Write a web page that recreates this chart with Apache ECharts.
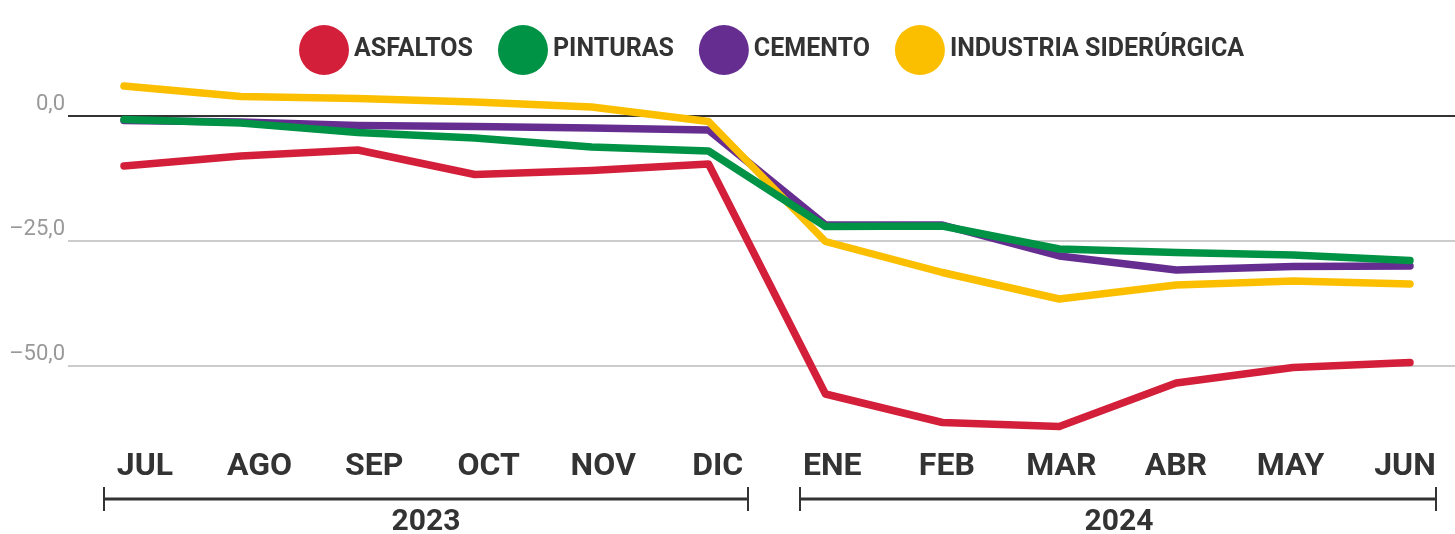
<!DOCTYPE html>
<html>
<head>
<meta charset="utf-8">
<script src="https://cdn.jsdelivr.net/npm/echarts@6/dist/echarts.min.js"></script>
<style>
  html, body { margin: 0; padding: 0; background: #fff; }
  #chart { width: 1455px; height: 534px; }
</style>
</head>
<body>
<div id="chart"></div>
<script>
// datos
const months = ['JUL', 'AGO', 'SEP', 'OCT', 'NOV', 'DIC', 'ENE', 'FEB', 'MAR', 'ABR', 'MAY', 'JUN'];
const years = ['2023', '2024'];
const asfaltos = [-10.1, -8.1, -6.9, -11.8, -11.0, -9.7, -55.7, -61.4, -62.2, -53.5, -50.4, -49.4];
const pinturas = [-0.8, -1.5, -3.4, -4.5, -6.3, -7.1, -22.2, -22.1, -26.7, -27.4, -27.9, -29.0];
const cemento = [-1.0, -1.3, -2.0, -2.2, -2.5, -2.9, -21.9, -21.9, -28.1, -30.9, -30.2, -30.1];
const siderurgica = [5.9, 3.8, 3.4, 2.7, 1.7, -1.2, -25.2, -31.4, -36.7, -33.9, -33.1, -33.7];
const yTicks = [0, -25, -50];

const FONT = 'Roboto, "Noto Sans", sans-serif';
const chart = echarts.init(document.getElementById('chart'));

// escala y: 5px por unidad, 0 en y=115.5
const yBase = { type: 'value', min: -75, max: 23, interval: 25 };

function lineSerie(name, data, color, z) {
  return {
    name: name,
    type: 'line',
    xAxisIndex: 1,
    yAxisIndex: 1,
    data: data,
    z: z,
    symbol: 'none',
    showSymbol: false,
    lineStyle: { color: color, width: 7.5, cap: 'round', join: 'round' },
    itemStyle: { color: color }
  };
}

const option = {
  animation: false,
  legend: {
    data: ['ASFALTOS', 'PINTURAS', 'CEMENTO', 'INDUSTRIA SIDERÚRGICA'],
    icon: 'circle',
    top: 20,
    left: 294,
    itemWidth: 50,
    itemHeight: 50,
    itemGap: 25,
    textStyle: { fontFamily: FONT, fontSize: 25, fontWeight: 'bold', color: '#333' }
  },
  grid: [
    { left: 68, right: 0, top: 0.5, bottom: 43.5 },
    { left: 124, right: 45, top: 0.5, bottom: 43.5 },
    { left: 145, right: 50, top: 100, bottom: 84 }
  ],
  xAxis: [
    { gridIndex: 0, type: 'value', show: false },
    { gridIndex: 1, type: 'category', data: months, boundaryGap: false, show: false },
    {
      gridIndex: 2, type: 'category', data: months, boundaryGap: false,
      axisLine: { show: false }, axisTick: { show: false },
      axisLabel: {
        interval: 0, margin: 1, fontFamily: FONT, fontSize: 32, fontWeight: 'bold',
        color: '#333', lineHeight: 32, verticalAlign: 'top'
      }
    }
  ],
  yAxis: [
    Object.assign({}, yBase, {
      gridIndex: 0,
      axisLine: { show: false }, axisTick: { show: false },
      axisLabel: {
        margin: 3, fontFamily: FONT, fontSize: 22, color: '#999999', verticalAlign: 'bottom',
        formatter: v => yTicks.indexOf(v) >= 0 ? (v < 0 ? '–' + Math.abs(v) + ',0' : v + ',0') : ''
      },
      splitLine: {
        show: true,
        lineStyle: { color: ['rgba(0,0,0,0)', '#cccccc', '#cccccc', '#333333', 'rgba(0,0,0,0)'], width: 2 }
      }
    }),
    Object.assign({}, yBase, { gridIndex: 1, show: false, splitLine: { show: false } }),
    { gridIndex: 2, type: 'value', show: false, splitLine: { show: false } }
  ],
  graphic: [
    { type: 'line', shape: { x1: 104, y1: 499, x2: 748, y2: 499 }, style: { stroke: '#333', lineWidth: 3 } },
    { type: 'line', shape: { x1: 104, y1: 487, x2: 104, y2: 511 }, style: { stroke: '#333', lineWidth: 2 } },
    { type: 'line', shape: { x1: 748, y1: 487, x2: 748, y2: 511 }, style: { stroke: '#333', lineWidth: 2 } },
    { type: 'line', shape: { x1: 800, y1: 499, x2: 1436, y2: 499 }, style: { stroke: '#333', lineWidth: 3 } },
    { type: 'line', shape: { x1: 800, y1: 487, x2: 800, y2: 511 }, style: { stroke: '#333', lineWidth: 2 } },
    { type: 'line', shape: { x1: 1436, y1: 487, x2: 1436, y2: 511 }, style: { stroke: '#333', lineWidth: 2 } },
    {
      type: 'text', x: 426, y: 522,
      style: { text: years[0], fontFamily: FONT, fontSize: 30, fontWeight: 'bold', fill: '#333', align: 'center', verticalAlign: 'middle' }
    },
    {
      type: 'text', x: 1119, y: 522,
      style: { text: years[1], fontFamily: FONT, fontSize: 30, fontWeight: 'bold', fill: '#333', align: 'center', verticalAlign: 'middle' }
    }
  ],
  series: [
    lineSerie('ASFALTOS', asfaltos, '#D31F3A', 2),
    lineSerie('CEMENTO', cemento, '#662D91', 3),
    lineSerie('INDUSTRIA SIDERÚRGICA', siderurgica, '#FBBF00', 4),
    lineSerie('PINTURAS', pinturas, '#009245', 5)
  ]
};

chart.setOption(option);
</script>
</body>
</html>
